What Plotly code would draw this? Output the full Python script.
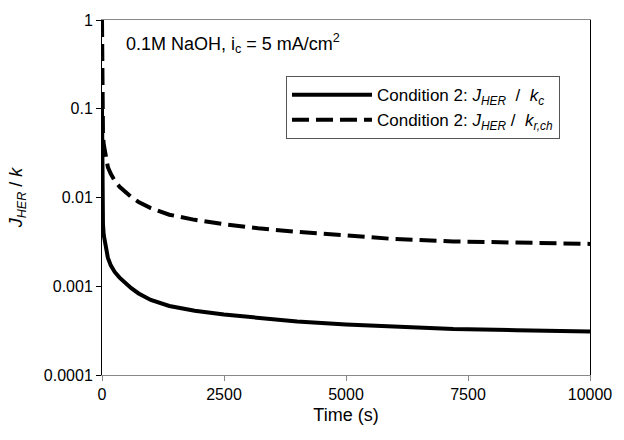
import plotly.graph_objects as go

# Data
time_s = [0, 2, 5, 10, 20, 35, 60, 90, 120, 180, 260, 360, 470, 600, 750,
          1000, 1380, 1900, 2500, 3200, 4000, 5000, 6000, 7200, 8500, 10000]
jher_kc = [0.1, 0.03, 0.012, 0.0075, 0.005, 0.0038, 0.0031, 0.0025, 0.0021,
           0.00172, 0.00145, 0.00125, 0.0011, 0.00095, 0.00083, 0.0007,
           0.0006, 0.00053, 0.00048, 0.00044, 0.0004, 0.00037, 0.00035,
           0.00033, 0.00032, 0.00031]
jher_krch = [1.0, 0.3, 0.12, 0.075, 0.05, 0.04, 0.033, 0.026, 0.022, 0.0185,
             0.0155, 0.0132, 0.0115, 0.0101, 0.0089, 0.0076, 0.0064, 0.0056,
             0.005, 0.0045, 0.0041, 0.0037, 0.0034, 0.0032, 0.0031, 0.003]

x_ticks = [0, 2500, 5000, 7500, 10000]
x_tick_text = ["0", "2500", "5000", "7500", "10000"]
y_ticks = [1, 0.1, 0.01, 0.001, 0.0001]
y_tick_text = ["1", "0.1", "0.01", "0.001", "0.0001"]

FONT = "Liberation Sans, Arial, sans-serif"

fig = go.Figure()
fig.add_trace(go.Scatter(
    x=time_s, y=jher_kc, mode="lines",
    line=dict(color="black", width=4),
    name="Condition 2: <i>J<sub>HER</sub></i>  /  <i>k<sub>c</sub></i>"))
fig.add_trace(go.Scatter(
    x=time_s, y=jher_krch, mode="lines",
    line=dict(color="black", width=4, dash="17px,7px"),
    name="Condition 2: <i>J<sub>HER</sub></i> /  <i>k<sub>r,ch</sub></i>"))

fig.update_layout(
    width=624, height=440,
    margin=dict(l=102, r=26, t=20, b=65),
    paper_bgcolor="white", plot_bgcolor="white",
    font=dict(family=FONT, size=16, color="black"),
    showlegend=True,
    legend=dict(x=0.377, y=0.842, xanchor="left", yanchor="top",
                bordercolor="#555555", borderwidth=1, bgcolor="white",
                font=dict(size=17), itemwidth=80, tracegroupgap=0),
    xaxis=dict(range=[0, 10000], tickvals=x_ticks, ticktext=x_tick_text,
               showgrid=False, zeroline=False,
               showline=True, linecolor="#888888", linewidth=1, mirror=True,
               ticks="outside", ticklen=5, tickcolor="#888888",
               tickfont=dict(size=16),
               title=dict(text="Time (s)", font=dict(size=18), standoff=6)),
    yaxis=dict(type="log", range=[-4, 0], tickvals=y_ticks, ticktext=y_tick_text,
               showgrid=False, zeroline=False,
               showline=True, linecolor="black", linewidth=1, mirror=True,
               ticks="outside", ticklen=5, tickcolor="black",
               tickfont=dict(size=16),
               title=dict(text="<i>J<sub>HER</sub></i> / <i>k</i>",
                          font=dict(size=18), standoff=16)),
    annotations=[dict(
        text="0.1M NaOH, i<sub>c</sub> = 5 mA/cm<sup>2</sup>",
        xref="paper", yref="paper", x=0.046, y=0.935,
        xanchor="left", yanchor="middle", showarrow=False,
        font=dict(size=18))],
)

fig.write_html("out.html")
